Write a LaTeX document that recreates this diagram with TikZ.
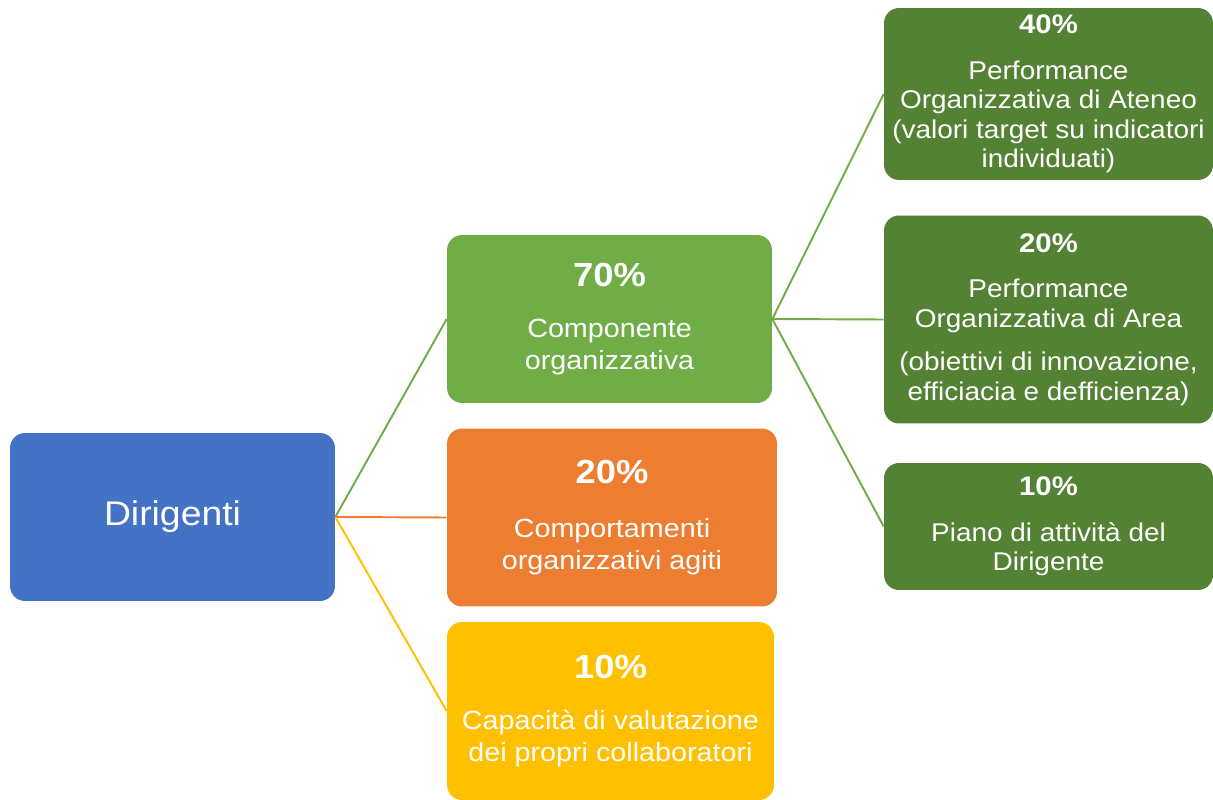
\documentclass[tikz,border=0pt]{standalone}
\usepackage{fontspec}
\setmainfont{Liberation Sans}[FakeStretch=1.09]
\usepackage{tikz}

\definecolor{blu}{HTML}{4472C4}
\definecolor{lgreen}{HTML}{70AD47}
\definecolor{dgreen}{HTML}{548235}
\definecolor{orng}{HTML}{ED7D31}
\definecolor{yllw}{HTML}{FFC000}

\newcommand{\pctleft}[1]{{\fontsize{19}{23}\selectfont\bfseries #1}}
\newcommand{\pctright}[1]{{\fontsize{15.3}{18}\selectfont\bfseries #1}}

\begin{document}
\begin{tikzpicture}[x=0.02cm, y=-0.02cm]

    % --- DEFINE STYLES ---
    % Style for all boxes
    \tikzstyle{box} = [rectangle, rounded corners=0.3cm, inner sep=0pt, text=white, align=center]
    % Style for the boxes of the first level
    \tikzstyle{leftbox} = [box, minimum width=6.5cm, minimum height=3.36cm, font=\fontsize{15}{18}\selectfont]
    % Style for the boxes of the second level
    \tikzstyle{rightbox} = [box, fill=dgreen, minimum width=6.58cm, font=\fontsize{14.6}{16.8}\selectfont]
    % Style for connectors
    \tikzstyle{link} = [line width=1.1pt]

    \useasboundingbox (0,0) rectangle (1213,800);

    % --- FIRST LEVEL ---
    \node[leftbox, fill=blu, font=\fontsize{19.5}{23}\selectfont] (dir) at (172.5,517) {Dirigenti};
    \node[leftbox, fill=lgreen] (comp) at (609.5,319) {\pctleft{70\%}\\[11pt]Componente\\organizzativa};
    \node[leftbox, fill=orng, minimum width=6.6cm, minimum height=3.56cm] (agiti) at (612,517.5) {\pctleft{20\%}\\[13pt]Comportamenti\\organizzativi agiti};
    \node[leftbox, fill=yllw, minimum width=6.54cm, minimum height=3.56cm] (valut) at (610.5,711) {\pctleft{10\%}\\[11pt]Capacità di valutazione\\dei propri collaboratori};

    % --- SECOND LEVEL ---
    \node[rightbox, minimum height=3.44cm] (ateneo) at (1048.5,94) {\pctright{40\%}\\[9pt]Performance\\Organizzativa di Ateneo\\(valori target su indicatori\\individuati)};
    \node[rightbox, minimum height=4.16cm] (area) at (1048.5,319.5) {\pctright{20\%}\\[9pt]Performance\\Organizzativa di Area\\[8pt](obiettivi di innovazione,\\efficiacia e defficienza)};
    \node[rightbox, minimum height=2.54cm] (piano) at (1048.5,526.5) {\pctright{10\%}\\[9pt]Piano di attività del\\Dirigente};

    % --- CONNECTORS ---
    \draw[link, lgreen] (dir.east) -- (comp.west);
    \draw[link, orng] (dir.east) -- (agiti.west);
    \draw[link, yllw] (dir.east) -- (valut.west);
    \foreach \t in {ateneo,area,piano}
        \draw[link, lgreen] (comp.east) -- (\t.west);
\end{tikzpicture}
\end{document}
